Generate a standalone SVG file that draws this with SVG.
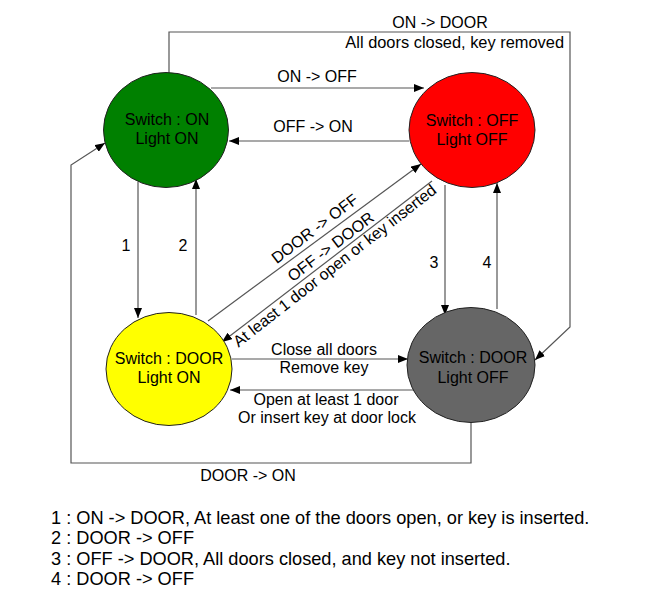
<svg xmlns="http://www.w3.org/2000/svg" width="672" height="597" viewBox="0 0 672 597">
<defs>
<style>
text{font-family:"Liberation Sans",Arial,sans-serif;font-size:16px;fill:#000}
.c{text-anchor:middle}
.e{text-anchor:end}
.leg{font-size:18.2px}
.node ellipse{stroke:#222;stroke-width:1}
.conn path{fill:none;stroke:#555;stroke-width:1.2}
</style>
<marker id="ah" viewBox="0 0 10 8" refX="10" refY="4" markerWidth="10" markerHeight="8" markerUnits="userSpaceOnUse" orient="auto">
<path d="M0,0 L10,4 L0,8 Z" fill="#000"/>
</marker>
</defs>
<rect width="672" height="597" fill="#fff"/>

<g id="connectors" class="conn">
<path d="M211,88 H424" marker-end="url(#ah)"/>
<path d="M409,141 H229" marker-end="url(#ah)"/>
<path d="M169,73 V32 H570 V327 L535,360" marker-end="url(#ah)"/>
<path d="M138,182 V318" marker-end="url(#ah)"/>
<path d="M196,315 V179" marker-end="url(#ah)"/>
<path d="M445,185 V315" marker-end="url(#ah)"/>
<path d="M497,309 V183" marker-end="url(#ah)"/>
<path d="M208,321 L421,164" marker-end="url(#ah)"/>
<path d="M432,181 L222,342" marker-end="url(#ah)"/>
<path d="M232,359 H408" marker-end="url(#ah)"/>
<path d="M420,390 H230" marker-end="url(#ah)"/>
<path d="M471,422 V463 H71 V165 L105,143" marker-end="url(#ah)"/>
</g>

<g id="edge-labels">
<text class="c" x="317" y="82">ON -&gt; OFF</text>
<text class="c" x="313" y="132">OFF -&gt; ON</text>
<text class="c" x="440" y="28">ON -&gt; DOOR</text>
<text class="e" x="564" y="48" style="font-size:16.4px">All doors closed, key removed</text>
<text class="c" x="126" y="251">1</text>
<text class="c" x="183" y="251">2</text>
<text class="c" x="434" y="268">3</text>
<text class="c" x="487" y="268">4</text>
<text class="c" transform="translate(318,233) rotate(-37)">DOOR -&gt; OFF</text>
<text class="c" transform="translate(334,251) rotate(-37)">OFF -&gt; DOOR</text>
<text class="c" transform="translate(338,270) rotate(-38)">At least 1 door open or key inserted</text>
<text class="c" x="324" y="355">Close all doors</text>
<text class="c" x="324" y="373">Remove key</text>
<text class="c" x="326" y="405">Open at least 1 door</text>
<text class="c" x="327" y="423">Or insert key at door lock</text>
<text class="c" x="248" y="481">DOOR -&gt; ON</text>
</g>

<g id="node-on" class="node">
<ellipse cx="166" cy="130" rx="62.5" ry="57.5" fill="#008000"/>
<text class="c" x="167" y="125">Switch : ON</text>
<text class="c" x="167" y="144">Light ON</text>
</g>
<g id="node-off" class="node">
<ellipse cx="472" cy="130" rx="63" ry="57.5" fill="#ff0000"/>
<text class="c" x="472" y="126">Switch : OFF</text>
<text class="c" x="472" y="145">Light OFF</text>
</g>
<g id="node-door-on" class="node">
<ellipse cx="169" cy="369" rx="63" ry="56.5" fill="#ffff00"/>
<text class="c" x="169" y="364">Switch : DOOR</text>
<text class="c" x="169" y="383">Light ON</text>
</g>
<g id="node-door-off" class="node">
<ellipse cx="471" cy="365" rx="64" ry="57.5" fill="#666666"/>
<text class="c" x="473" y="363">Switch : DOOR</text>
<text class="c" x="473" y="383">Light OFF</text>
</g>

<g id="legend">
<text class="leg" x="51" y="524">1 : ON -&gt; DOOR, At least one of the doors open, or key is inserted.</text>
<text class="leg" x="51" y="544">2 : DOOR -&gt; OFF</text>
<text class="leg" x="51" y="565">3 : OFF -&gt; DOOR, All doors closed, and key not inserted.</text>
<text class="leg" x="51" y="585">4 : DOOR -&gt; OFF</text>
</g>
</svg>
